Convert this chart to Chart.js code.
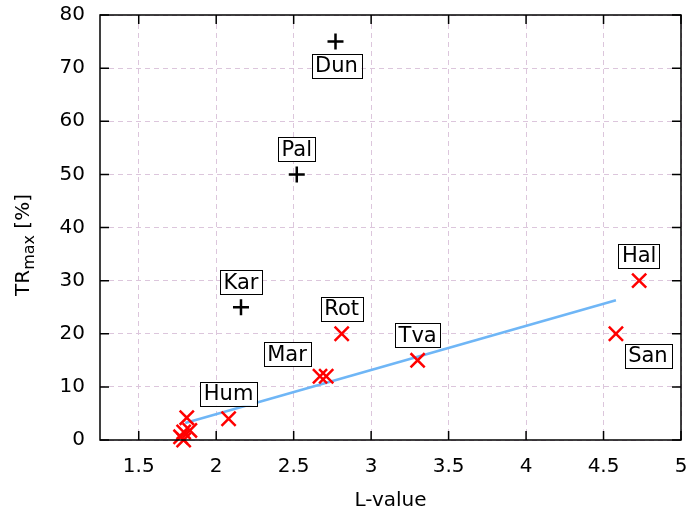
<html>
<head>
  <meta charset="utf-8">
  <title>TRmax vs L-value</title>
  <script src="https://cdn.jsdelivr.net/npm/chart.js"></script>
  <style>
    body {
      margin: 0;
      background: white;
    }
    #wrap {
      width: 688px;
      height: 518px;
    }
  </style>
</head>
<body>
  <div id="wrap"><canvas id="chart" width="688" height="518"></canvas></div>

<script>
// stations with TRmax estimate (red crosses)
const crossX = [4.73, 4.58, 3.30, 2.81, 2.67, 2.71, 2.08, 1.81, 1.83, 1.79, 1.77, 1.79];
const crossY = [30, 20, 15, 20, 12, 12, 4, 4.2, 1.8, 1.5, 0.6, 0];

// stations excluded from the fit (black plus)
const plusX = [2.77, 2.52, 2.16];
const plusY = [75, 50, 25];

// linear fit
const fitX = [1.80, 4.58];
const fitY = [3.2, 26.3];

// station labels and the point they belong to
const labelNames = ["Dun", "Pal", "Kar", "Hal", "San", "Tva", "Rot", "Mar", "Hum"];
const labelX = [2.77, 2.52, 2.16, 4.73, 4.58, 3.30, 2.81, 2.67, 2.08];
const labelY = [75, 50, 25, 30, 20, 15, 20, 12, 4];

const xTicks = [1.5, 2, 2.5, 3, 3.5, 4, 4.5, 5];
const yTicks = [0, 10, 20, 30, 40, 50, 60, 70, 80];

const FONT = "'DejaVu Sans', sans-serif";

function pts(xs, ys) {
  return xs.map((x, i) => ({ x: x, y: ys[i] }));
}

// where each label box sits relative to its point (pixels)
const labelOffset = {
  Dun: [1, 24], San: [32, 22], Mar: [-33, -22]
};

const framePlugin = {
  id: 'frame',
  afterDatasetsDraw(chart) {
    const ctx = chart.ctx;
    const xs = chart.scales.x, ys = chart.scales.y;

    // label boxes
    ctx.save();
    ctx.font = "21px " + FONT;
    ctx.textAlign = 'center';
    ctx.textBaseline = 'middle';
    labelNames.forEach((name, i) => {
      const off = labelOffset[name] || [0, -25];
      const cx = xs.getPixelForValue(labelX[i]) + off[0];
      const cy = ys.getPixelForValue(labelY[i]) + off[1];
      const w = ctx.measureText(name).width + 7;
      const h = 24;
      ctx.fillStyle = 'white';
      ctx.fillRect(cx - w / 2, cy - h / 2, w, h);
      ctx.strokeStyle = '#000';
      ctx.lineWidth = 1;
      ctx.strokeRect(Math.round(cx - w / 2) + 0.5, Math.round(cy - h / 2) + 0.5, Math.round(w), h);
      ctx.fillStyle = '#000';
      ctx.fillText(name, cx, cy + 1);
    });
    ctx.restore();
  },
  afterDraw(chart) {
    const ctx = chart.ctx;
    const xs = chart.scales.x, ys = chart.scales.y;
    const a = chart.chartArea;
    ctx.save();
    ctx.strokeStyle = '#000';
    ctx.lineWidth = 1.5;
    ctx.strokeRect(a.left, a.top, a.right - a.left, a.bottom - a.top);

    // inward ticks on all four sides
    const tl = 9;
    ctx.beginPath();
    xTicks.forEach(v => {
      const px = xs.getPixelForValue(v);
      ctx.moveTo(px, a.bottom); ctx.lineTo(px, a.bottom - tl);
      ctx.moveTo(px, a.top); ctx.lineTo(px, a.top + tl);
    });
    yTicks.forEach(v => {
      const py = ys.getPixelForValue(v);
      ctx.moveTo(a.left, py); ctx.lineTo(a.left + tl, py);
      ctx.moveTo(a.right, py); ctx.lineTo(a.right - tl, py);
    });
    ctx.stroke();

    // axis titles
    ctx.fillStyle = '#000';
    ctx.font = "20px " + FONT;
    ctx.textAlign = 'center';
    ctx.textBaseline = 'middle';
    ctx.fillText("L-value", (a.left + a.right) / 2, 501);

    ctx.translate(22, 245);
    ctx.rotate(-Math.PI / 2);
    ctx.textAlign = 'left';
    ctx.textBaseline = 'alphabetic';
    const big = "20px " + FONT, small = "16px " + FONT;
    ctx.font = big; const w1 = ctx.measureText("TR").width;
    ctx.font = small; const w2 = ctx.measureText("max").width;
    ctx.font = big; const w3 = ctx.measureText(" [%]").width;
    let x0 = -(w1 + w2 + w3) / 2;
    ctx.font = big; ctx.fillText("TR", x0, 7);
    ctx.font = small; ctx.fillText("max", x0 + w1, 12);
    ctx.font = big; ctx.fillText(" [%]", x0 + w1 + w2, 7);
    ctx.restore();
  }
};

new Chart(document.getElementById('chart'), {
  type: 'scatter',
  data: {
    datasets: [
      {
        label: 'fit',
        data: pts(fitX, fitY),
        showLine: true,
        borderColor: '#6fb6f6',
        borderWidth: 2.5,
        pointRadius: 0,
        order: 3
      },
      {
        label: 'TRmax',
        data: pts(crossX, crossY),
        pointStyle: 'crossRot',
        pointRadius: 10,
        borderColor: '#ff0000',
        backgroundColor: '#ff0000',
        pointBorderWidth: 2.5,
        clip: false,
        order: 1
      },
      {
        label: 'excluded',
        data: pts(plusX, plusY),
        pointStyle: 'cross',
        pointRadius: 8,
        borderColor: '#000',
        backgroundColor: '#000',
        pointBorderWidth: 2.5,
        clip: false,
        order: 2
      }
    ]
  },
  options: {
    responsive: false,
    animation: false,
    layout: { autoPadding: false, padding: { top: 15, right: 7, left: 0, bottom: 0 } },
    plugins: {
      legend: { display: false },
      tooltip: { enabled: false }
    },
    scales: {
      x: {
        type: 'linear',
        min: 1.25,
        max: 5,
        afterFit: s => { s.height = 78; s.paddingLeft = 0; s.paddingRight = 0; },
        afterBuildTicks: s => { s.ticks = xTicks.map(v => ({ value: v })); },
        ticks: {
          padding: 15,
          color: '#000',
          font: { family: FONT, size: 20 },
          callback: v => String(v)
        },
        grid: { color: '#dcc6dc', lineWidth: 1, drawTicks: false },
        border: { display: false, dash: [5, 4] }
      },
      y: {
        type: 'linear',
        min: 0,
        max: 80,
        afterFit: s => { s.width = 100; s.paddingTop = 0; s.paddingBottom = 0; },
        afterBuildTicks: s => { s.ticks = yTicks.map(v => ({ value: v })); },
        ticks: {
          padding: 15,
          color: '#000',
          font: { family: FONT, size: 20 }
        },
        grid: { color: '#dcc6dc', lineWidth: 1, drawTicks: false },
        border: { display: false, dash: [5, 4] }
      }
    }
  },
  plugins: [framePlugin]
});
</script>
</body>
</html>
